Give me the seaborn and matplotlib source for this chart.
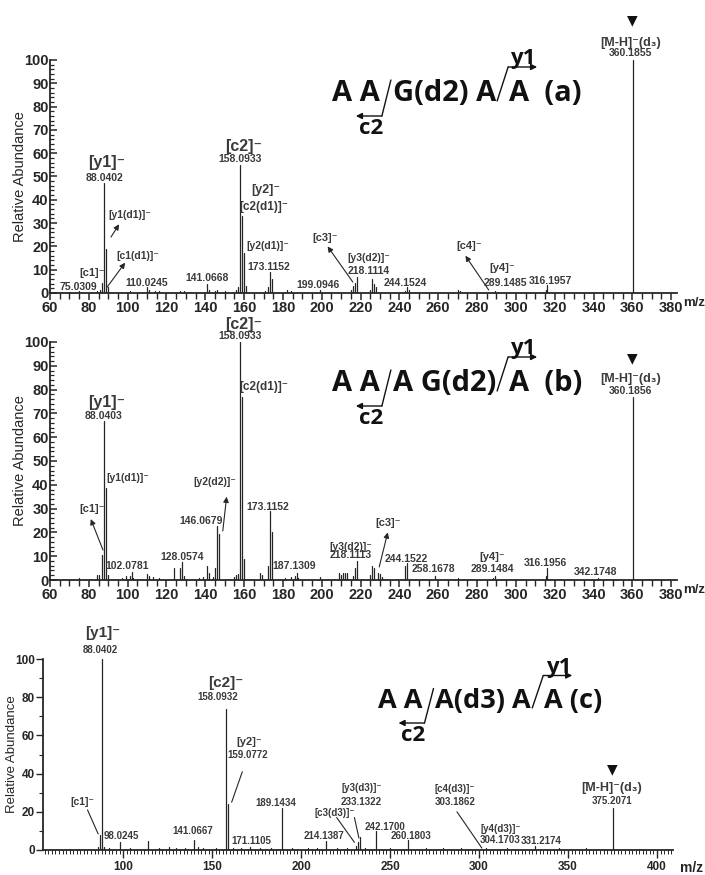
import matplotlib
matplotlib.use("Agg")
import matplotlib.pyplot as plt
from matplotlib.lines import Line2D
from matplotlib.patches import FancyArrowPatch
from matplotlib.ticker import MultipleLocator
import numpy as np
import pandas as pd
import seaborn as sns

sns.set_theme(style="ticks")
plt.rcParams['font.family'] = ['Liberation Sans', 'DejaVu Sans']

# ---- spectrum (a): A A/G(d2) A/A
mz_a = [70.0, 75.03, 84.0, 86.0, 87.03, 88.04, 89.05, 90.05, 101.0, 110.02, 111.0, 114.0, 116.0,
        127.0, 129.0, 141.07, 142.0, 145.0, 146.0, 150.0, 156.0, 157.0, 158.09, 159.10, 160.10,
        161.0, 171.0, 172.10, 173.12, 174.12, 182.0, 184.0, 199.09, 215.0, 216.1, 217.1, 218.11,
        225.0, 226.1, 227.1, 228.1, 243.0, 244.15, 245.0, 270.0, 271.0, 289.15, 315.5, 316.2, 360.19]
ab_a = [0.5, 1.0, 1.0, 1.5, 4.5, 47, 19, 2.5, 0.7, 2.5, 1.5, 0.8, 1.0,
        0.8, 1.0, 4.0, 1.5, 1.0, 1.2, 0.8, 1.5, 2.5, 55, 33, 17,
        3, 1.0, 2.5, 9, 6, 1.2, 1.0, 1.2, 1.5, 3, 4.5, 7,
        1.5, 6, 4, 2.5, 1.0, 2.5, 1.5, 1.2, 0.8, 1.0, 1.5, 3.5, 100]

# ---- spectrum (b): A A/A G(d2)/A
mz_b = [75.0, 84.0, 85.0, 87.03, 88.04, 89.05, 90.0, 97.0, 99.0, 101.0, 102.08, 103.0, 110.0,
        111.0, 113.0, 116.0, 124.0, 127.0, 128.06, 129.0, 137.0, 139.0, 141.0, 142.0, 144.0,
        145.0, 146.07, 147.07, 155.0, 156.0, 157.0, 158.09, 159.1, 160.1, 168.0, 169.0, 172.1,
        173.12, 174.12, 181.0, 184.0, 186.0, 187.13, 188.0, 199.0, 209.0, 210.0, 211.0, 212.0,
        213.0, 216.0, 217.1, 218.11, 225.0, 226.1, 227.1, 229.0, 230.0, 231.0, 243.1, 244.15,
        258.17, 270.0, 288.0, 289.15, 315.5, 316.2, 342.17, 360.19]
ab_b = [0.7, 2, 2, 10.5, 67, 38.5, 2, 0.8, 1.5, 1.5, 3.5, 1.0, 2.5,
        1.5, 1.2, 0.8, 5, 5, 7.5, 1.5, 1.0, 1.2, 6, 3, 1.2,
        5, 22.5, 19.5, 1.2, 2, 2.5, 100, 77, 9, 3, 2, 6,
        29, 20, 1.0, 1.2, 1.5, 3, 1.0, 1.2, 3, 2, 3, 3,
        3, 1.5, 5, 8, 2, 6, 5, 3, 2.5, 1.2, 6, 7,
        1.5, 1.0, 0.8, 1.5, 1.5, 5, 0.7, 77]

# ---- spectrum (c): A A/A(d3) A/A
mz_c = [70, 75, 86, 87.03, 88.04, 89.0, 92, 98.02, 104, 114.0, 120, 126.0, 130, 135, 140.07,
        142.0, 145, 152, 158.09, 159.08, 162, 166, 171.11, 177, 183, 189.14, 195, 204, 209,
        214.14, 220, 226, 231.0, 232.1, 233.13, 236, 242.17, 250, 260.18, 270, 280, 290,
        304.17, 316, 331.22, 345, 360, 375.21, 390]
ab_c = [0.5, 0.5, 1.5, 8, 100, 1.5, 0.8, 4, 0.8, 4.5, 0.8, 1.5, 0.8, 0.8, 5,
        1.5, 0.8, 0.8, 74, 24, 1.0, 0.8, 1.5, 0.8, 0.8, 22, 0.8, 0.8, 0.8,
        4.5, 0.8, 0.8, 2, 4, 7, 0.8, 10, 0.8, 5, 0.8, 0.8, 0.8,
        1.0, 0.8, 2, 0.8, 0.8, 22, 0.5]

INK = "#262626"
LBL = "#3a3a3a"
SEQ_FONT = ["Open Sans", "Lato", "DejaVu Sans"]
W, H = 705, 875

fig = plt.figure(figsize=(7.05, 8.75), dpi=100)


def add_axes(left, top, right, bottom):
    return fig.add_axes([left / W, 1 - bottom / H, (right - left) / W, (bottom - top) / H])


def sticks(mz, ab):
    n = len(mz)
    return pd.DataFrame({
        "mz": np.repeat(mz, 2),
        "ab": np.column_stack([np.zeros(n), ab]).ravel(),
        "peak": np.repeat(np.arange(n), 2),
    })


def spectrum(ax, mz, ab):
    sns.lineplot(data=sticks(mz, ab), x="mz", y="ab", units="peak", estimator=None,
                 sort=False, color=INK, lw=0.9, legend=False, ax=ax)
    sns.despine(ax=ax)
    ax.set_xlabel("")
    for s in ("left", "bottom"):
        ax.spines[s].set_color(INK)
        ax.spines[s].set_linewidth(1.3)


def bold_ticks(ax, size):
    ax.tick_params(labelsize=size, colors=INK)
    for t in ax.get_xticklabels() + ax.get_yticklabels():
        t.set_fontweight("bold")


def lab(ax, x, y, s, size=7.5):
    ax.text(x, y, s, fontsize=size, fontweight="bold", color=LBL, ha="center", va="center",
            family=["Liberation Sans", "DejaVu Sans"])


def pointer(ax, p0, p1, head=True):
    ax.annotate("", xy=p1, xytext=p0,
                arrowprops=dict(arrowstyle="-|>" if head else "-", color=INK, lw=0.8,
                                mutation_scale=8, shrinkA=0, shrinkB=0))


def fig_line(pts):
    xs = [p[0] / W for p in pts]
    ys = [p[1] / H for p in pts]
    fig.add_artist(Line2D(xs, ys, transform=fig.transFigure, color="#111111", lw=1.0))


def fig_arrow(p0, p1):
    fig.add_artist(FancyArrowPatch((p0[0] / W, p0[1] / H), (p1[0] / W, p1[1] / H),
                                   transform=fig.transFigure, arrowstyle="-|>",
                                   mutation_scale=9, lw=1.0, color="#111111",
                                   shrinkA=0, shrinkB=0))


def sequence(parts, x_px, base_px, size):
    r = fig.canvas.get_renderer()
    by = H - base_px
    cap = size * 100 / 72 * 0.72
    kw = dict(fontsize=size, fontweight="bold", family=SEQ_FONT, color="#111111",
              va="baseline", ha="left")
    x = x_px
    cuts = []
    for p in parts:
        t = fig.text(x / W, by / H, p, **kw)
        bb = t.get_window_extent(r)
        cuts.append(bb.x1)
        x = bb.x1 + 13
    g1, g2 = cuts[0], cuts[1]
    # c2 cleavage
    fig_line([(g1 + 11, by + cap), (g1 + 2, by - 15)])
    fig_arrow((g1 + 2, by - 15), (g1 - 24, by - 15))
    fig.text((g1 - 9) / W, (by - 17) / H, "c2", fontsize=16, fontweight="bold",
             family=SEQ_FONT, color="#111111", ha="center", va="top")
    # y1 cleavage
    top = by + cap + 13
    fig_line([(g2 + 1, by), (g2 + 12, top)])
    fig_arrow((g2 + 12, top), (g2 + 41, top))
    fig.text((g2 + 27) / W, (top + 3) / H, "y1", fontsize=16, fontweight="bold",
             family=SEQ_FONT, color="#111111", ha="center", va="baseline")


def style_ab(ax):
    ax.set_xlim(60, 383)
    ax.set_ylim(0, 100)
    ax.xaxis.set_major_locator(MultipleLocator(20))
    ax.xaxis.set_minor_locator(MultipleLocator(5))
    ax.yaxis.set_major_locator(MultipleLocator(10))
    ax.yaxis.set_minor_locator(MultipleLocator(2))
    ax.tick_params(axis="x", which="major", direction="out", length=5, width=1.1, pad=1)
    ax.tick_params(axis="x", which="minor", direction="out", length=4, width=1.0)
    ax.tick_params(axis="y", which="major", direction="in", length=5, width=1.1, pad=1)
    ax.tick_params(axis="y", which="minor", direction="in", length=3, width=0.9)
    bold_ticks(ax, 10.5)
    ax.set_ylabel("Relative Abundance", fontsize=10.5, color=INK)
    ax.yaxis.set_label_coords(-0.036, 0.5)
    ax.text(1.028, -0.043, "m/z", transform=ax.transAxes, fontsize=9.5, fontweight="bold",
            color=INK, ha="center", va="center")


# ---------- panel (a)
ax_a = add_axes(50, 60, 677, 293)
spectrum(ax_a, mz_a, ab_a)
style_ab(ax_a)
lab(ax_a, 89, 56, "[y1]⁻", 11.5)
lab(ax_a, 88, 49.5, "88.0402")
lab(ax_a, 101, 33.5, "[y1(d1)]⁻")
pointer(ax_a, (91.4, 24), (95.6, 29.5))
lab(ax_a, 105, 16, "[c1(d1)]⁻")
pointer(ax_a, (89.4, 2.5), (98.7, 13))
lab(ax_a, 81.6, 8.5, "[c1]⁻", 8)
lab(ax_a, 74.5, 2.6, "75.0309")
lab(ax_a, 110, 4.2, "110.0245")
lab(ax_a, 141, 6.3, "141.0668")
lab(ax_a, 160, 62.8, "[c2]⁻", 11.5)
lab(ax_a, 158, 57.3, "158.0933")
lab(ax_a, 171, 44, "[y2]⁻", 9)
lab(ax_a, 170, 37, "[c2(d1)]⁻", 8.5)
lab(ax_a, 172, 20, "[y2(d1)]⁻")
lab(ax_a, 172.5, 11, "173.1152")
lab(ax_a, 198, 3.4, "199.0946")
lab(ax_a, 201.7, 23.5, "[c3]⁻", 8)
pointer(ax_a, (216, 4.7), (203, 20))
lab(ax_a, 224, 15, "[y3(d2)]⁻")
lab(ax_a, 224, 9.5, "218.1114")
lab(ax_a, 243, 4.3, "244.1524")
lab(ax_a, 276, 20, "[c4]⁻", 8)
pointer(ax_a, (286, 1.3), (274, 16))
lab(ax_a, 293, 10.7, "[y4]⁻", 8)
lab(ax_a, 294.5, 4.3, "289.1485")
lab(ax_a, 317.7, 5.2, "316.1957")
ax_a.text(360, 117, "▼", fontsize=10, color="#111111", ha="center", va="center",
          family=["DejaVu Sans"])
lab(ax_a, 359, 107.5, "[M-H]⁻(d₃)", 9)
lab(ax_a, 359, 103, "360.1855")

# ---------- panel (b)
ax_b = add_axes(50, 342, 677, 580)
spectrum(ax_b, mz_b, ab_b)
style_ab(ax_b)
lab(ax_b, 160, 107.5, "[c2]⁻", 11.5)
lab(ax_b, 158, 102.5, "158.0933")
lab(ax_b, 170, 81, "[c2(d1)]⁻", 8.5)
lab(ax_b, 89, 74.5, "[y1]⁻", 11.5)
lab(ax_b, 87.5, 69, "88.0403")
lab(ax_b, 100, 43, "[y1(d1)]⁻")
lab(ax_b, 81.6, 30, "[c1]⁻", 8)
pointer(ax_b, (87.3, 12.6), (81, 25.6))
lab(ax_b, 99.6, 6, "102.0781")
lab(ax_b, 128, 9.7, "128.0574")
lab(ax_b, 138, 25, "146.0679")
lab(ax_b, 145, 41, "[y2(d2)]⁻")
pointer(ax_b, (149, 20.6), (151, 35))
lab(ax_b, 172.4, 30.7, "173.1152")
lab(ax_b, 186, 6, "187.1309")
lab(ax_b, 215, 14, "[y3(d2)]⁻")
lab(ax_b, 215, 10.3, "218.1113")
lab(ax_b, 234, 24, "[c3]⁻", 8)
pointer(ax_b, (229.6, 5.5), (234, 20))
lab(ax_b, 243.5, 9, "244.1522")
lab(ax_b, 257.4, 4.6, "258.1678")
lab(ax_b, 288, 9.7, "[y4]⁻", 8)
lab(ax_b, 288, 4.6, "289.1484")
lab(ax_b, 315, 7, "316.1956")
lab(ax_b, 341, 3.4, "342.1748")
ax_b.text(360, 93, "▼", fontsize=10, color="#111111", ha="center", va="center",
          family=["DejaVu Sans"])
lab(ax_b, 359, 84.5, "[M-H]⁻(d₃)", 9)
lab(ax_b, 359, 79.5, "360.1856")

# ---------- panel (c)
ax_c = add_axes(43, 659, 673, 850)
spectrum(ax_c, mz_c, ab_c)
ax_c.set_xlim(55, 409)
ax_c.set_ylim(0, 100)
ax_c.xaxis.set_major_locator(MultipleLocator(50))
ax_c.xaxis.set_minor_locator(MultipleLocator(2))
ax_c.yaxis.set_major_locator(MultipleLocator(20))
ax_c.yaxis.set_minor_locator(MultipleLocator(10))
ax_c.tick_params(axis="x", which="major", direction="out", length=6, width=1.0, pad=2)
ax_c.tick_params(axis="x", which="minor", direction="out", length=3, width=0.7)
ax_c.tick_params(axis="y", which="major", direction="out", length=5, width=1.0, pad=1)
ax_c.tick_params(axis="y", which="minor", direction="out", length=3, width=0.8)
bold_ticks(ax_c, 8.5)
ax_c.set_ylabel("Relative Abundance", fontsize=9.5, color=INK)
ax_c.yaxis.set_label_coords(-0.039, 0.5)
ax_c.text(1.03, -0.094, "m/z", transform=ax_c.transAxes, fontsize=10, fontweight="bold",
          color=INK, ha="center", va="center")
lab(ax_c, 88.7, 113.6, "[y1]⁻", 11)
lab(ax_c, 87.5, 104.5, "88.0402", 7)
lab(ax_c, 157.5, 87.5, "[c2]⁻", 11)
lab(ax_c, 153, 80, "158.0932", 7)
lab(ax_c, 171, 56.5, "[y2]⁻", 8)
lab(ax_c, 170, 50, "159.0772", 7)
pointer(ax_c, (167, 41), (161, 25), head=False)
lab(ax_c, 77, 25, "[c1]⁻", 7.5)
pointer(ax_c, (80, 21), (86, 8.4), head=False)
lab(ax_c, 99, 7.3, "98.0245", 7)
lab(ax_c, 139, 10, "141.0667", 7)
lab(ax_c, 172, 4.7, "171.1105", 7)
lab(ax_c, 186, 24.6, "189.1434", 7)
lab(ax_c, 219, 19.4, "[c3(d3)]⁻", 7)
pointer(ax_c, (220, 17), (230, 4), head=False)
lab(ax_c, 213, 7.3, "214.1387", 7)
lab(ax_c, 234, 32.5, "[y3(d3)]⁻", 7)
lab(ax_c, 234, 25, "233.1322", 7)
pointer(ax_c, (230, 17), (232.5, 6.3), head=False)
lab(ax_c, 247, 12, "242.1700", 7)
lab(ax_c, 262, 7.3, "260.1803", 7)
lab(ax_c, 286.5, 32, "[c4(d3)]⁻", 7)
lab(ax_c, 286.5, 25, "303.1862", 7)
pointer(ax_c, (287.6, 20), (301.6, 1), head=False)
lab(ax_c, 312, 11, "[y4(d3)]⁻", 7)
lab(ax_c, 311.7, 5.2, "304.1703", 7)
lab(ax_c, 335, 4.7, "331.2174", 7)
ax_c.text(374.7, 42.5, "▼", fontsize=10, color="#111111", ha="center", va="center",
          family=["DejaVu Sans"])
lab(ax_c, 374.7, 32.5, "[M-H]⁻(d₃)", 9)
lab(ax_c, 374.7, 25.5, "375.2071", 7)

# ---------- sequence headers
sequence(["A A", "G(d2) A", "A  (a)"], 332, 101, 21)
sequence(["A A", "A G(d2)", "A  (b)"], 332, 391, 21)
sequence(["A A", "A(d3) A", "A (c)"], 378, 708, 19.5)

fig.savefig("out.png", dpi=100, facecolor="white")
